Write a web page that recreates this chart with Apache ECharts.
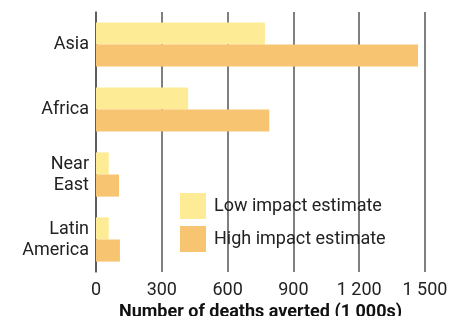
<!DOCTYPE html>
<html><head><meta charset="utf-8">
<script src="https://cdn.jsdelivr.net/npm/echarts@6/dist/echarts.min.js"></script>
<style>html,body{margin:0;padding:0;background:#fff}#c{width:459px;height:316px}</style>
</head><body><div id="c"></div>
<script>
const categories = ["Asia", "Africa", "Near\nEast", "Latin\nAmerica"];
const lowImpact = [770, 420, 58, 58];
const highImpact = [1468, 790, 105, 109];
const seriesNames = ["Low impact estimate", "High impact estimate"];
const xTicks = [0, 300, 600, 900, 1200, 1500];

const chart = echarts.init(document.getElementById('c'), null, {renderer: 'canvas'});
const font = 'Roboto';
chart.setOption({
  animation: false,
  textStyle: {fontFamily: font},
  grid: {left: 96, right: 34, top: 12, bottom: 44, containLabel: false, outerBoundsMode: 'none'},
  legend: {
    orient: 'vertical', left: 180, top: 193, padding: 0,
    itemWidth: 26, itemHeight: 26, itemGap: 7, icon: 'rect',
    textStyle: {fontSize: 18, color: '#222', fontFamily: font, padding: [0,0,0,3]},
    data: seriesNames
  },
  xAxis: {
    type: 'value', min: xTicks[0], max: xTicks[xTicks.length-1], interval: 300,
    axisLine: {show: false}, axisTick: {show: false},
    splitLine: {show: true, lineStyle: {color: '#555', width: 1.5}},
    axisLabel: {fontSize: 18, color: '#222', margin: 9, fontFamily: font,
      formatter: v => String(v).replace(/\B(?=(\d{3})+(?!\d))/g, ' ')},
    name: 'Number of deaths averted (1 000s)', nameLocation: 'middle', nameGap: 31,
    nameTextStyle: {fontSize: 18, fontWeight: 'bold', color: '#111', fontFamily: font}
  },
  yAxis: {
    type: 'category', data: categories, inverse: true,
    axisLine: {show: true, lineStyle: {color: '#555', width: 1.5}},
    axisTick: {show: false},
    axisLabel: {fontSize: 18, color: '#222', margin: 7, lineHeight: 21, fontFamily: font}
  },
  series: [
    {name: seriesNames[0], type: 'bar', data: lowImpact, itemStyle: {color: '#FDEB95'},
     barGap: '0%', barCategoryGap: '32%'},
    {name: seriesNames[1], type: 'bar', data: highImpact, itemStyle: {color: '#F7C471'},
     barGap: '0%', barCategoryGap: '32%'}
  ]
});
</script></body></html>
